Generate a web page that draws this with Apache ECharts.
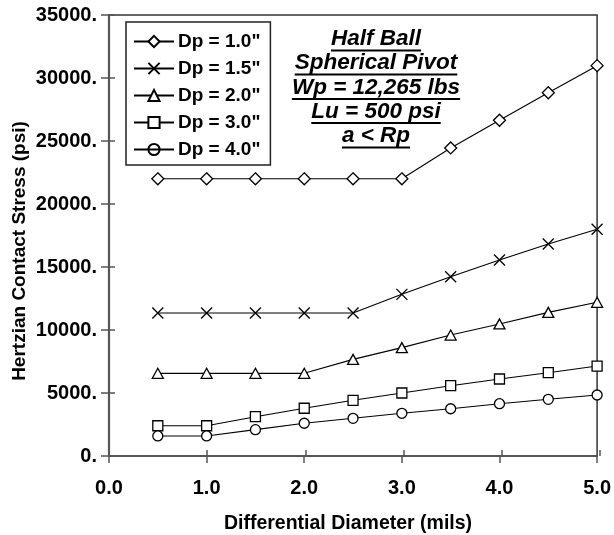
<!DOCTYPE html>
<html>
<head>
<meta charset="utf-8">
<script src="https://cdn.jsdelivr.net/npm/echarts@6/dist/echarts.min.js"></script>
<style>
  html, body { margin: 0; padding: 0; background: #fff; }
  #chart { width: 614px; height: 535px; }
</style>
</head>
<body>
<div id="chart"></div>
<script>
// Differential diameter (mils) along the x axis
const diffDiameter = [0.5, 1.0, 1.5, 2.0, 2.5, 3.0, 3.5, 4.0, 4.5, 5.0];

// Hertzian contact stress (psi) for each pivot diameter
const dp10 = [22000, 22000, 22000, 22000, 22000, 22000, 24450, 26650, 28830, 30980];
const dp15 = [11350, 11350, 11350, 11350, 11350, 12830, 14230, 15560, 16830, 17990];
const dp20 = [6560, 6560, 6560, 6560, 7670, 8600, 9600, 10480, 11400, 12200];
const dp30 = [2400, 2400, 3120, 3790, 4420, 5000, 5580, 6110, 6610, 7140];
const dp40 = [1590, 1590, 2090, 2600, 2990, 3390, 3750, 4150, 4500, 4840];

const seriesNames = ['Dp = 1.0"', 'Dp = 1.5"', 'Dp = 2.0"', 'Dp = 3.0"', 'Dp = 4.0"'];

const yTicks = [0, 5000, 10000, 15000, 20000, 25000, 30000, 35000];
const xTicks = [0, 1, 2, 3, 4, 5];

const noteLines = ['Half Ball', 'Spherical Pivot', 'Wp = 12,265 lbs', 'Lu = 500 psi', 'a < Rp'];

const FONT = 'Arial, "Liberation Sans", sans-serif';
const INK = '#000';
const AXIS_GRAY = '#555';

const crossPath = 'path://M0,0L10,10M10,0L0,10';
const markers = [
  { symbol: 'diamond', size: [12, 12] },
  { symbol: crossPath, size: 11 },
  { symbol: 'triangle', size: [11, 10] },
  { symbol: 'rect', size: 10 },
  { symbol: 'circle', size: 10 }
];
const values = [dp10, dp15, dp20, dp30, dp40];

const series = values.map((vals, i) => ({
  name: seriesNames[i],
  type: 'line',
  xAxisIndex: 0,
  yAxisIndex: 0,
  data: diffDiameter.map((x, k) => [x, vals[k]]),
  symbol: markers[i].symbol,
  symbolSize: markers[i].size,
  showAllSymbol: true,
  lineStyle: { color: INK, width: 1.1 },
  itemStyle: { color: i === 1 ? 'none' : '#fff', borderColor: INK, borderWidth: 1.3 },
  emphasis: { disabled: true },
  animation: false,
  z: 3
}));

// measure text to place the underlines under the note lines
const NOTE_FONT = 'italic bold 22.5px ' + FONT;
const measureCtx = document.createElement('canvas').getContext('2d');
measureCtx.font = NOTE_FONT;

const noteX = 376;
const noteY = [39, 63, 87.5, 111.5, 136];
const noteGraphics = [];
noteLines.forEach((t, i) => {
  const w = measureCtx.measureText(t).width;
  noteGraphics.push({
    type: 'text',
    x: noteX, y: noteY[i],
    style: {
      text: t, fill: INK, font: NOTE_FONT,
      textAlign: 'center', textVerticalAlign: 'middle'
    },
    z: 10
  });
  noteGraphics.push({
    type: 'line',
    shape: { x1: noteX - w / 2, y1: noteY[i] + 11.5, x2: noteX + w / 2, y2: noteY[i] + 11.5 },
    style: { stroke: INK, lineWidth: 2 },
    z: 10
  });
});

const gridRect = { left: 109, top: 15, right: 14, bottom: 79 };

const chart = echarts.init(document.getElementById('chart'), null, { renderer: 'canvas' });
chart.setOption({
  animation: false,
  backgroundColor: '#fff',
  grid: [
    Object.assign({ show: true, borderColor: '#333', borderWidth: 1.5, backgroundColor: 'transparent' }, gridRect),
    Object.assign({ show: false }, gridRect)
  ],
  xAxis: [
    {
      type: 'value', gridIndex: 0, min: xTicks[0], max: xTicks[xTicks.length - 1], interval: 1,
      axisLine: { show: true, lineStyle: { color: AXIS_GRAY, width: 2.2 } },
      axisTick: { show: true, inside: false, length: 7, lineStyle: { color: AXIS_GRAY, width: 1.5 } },
      axisLabel: {
        margin: 22, color: INK, fontFamily: FONT, fontWeight: 'bold', fontSize: 20,
        formatter: v => v.toFixed(1)
      },
      splitLine: { show: false }
    },
    {
      type: 'value', gridIndex: 1, min: xTicks[0], max: xTicks[xTicks.length - 1], interval: 1,
      axisLine: { show: false },
      axisTick: { show: true, inside: true, length: 6, lineStyle: { color: AXIS_GRAY, width: 1.5 } },
      axisLabel: { show: false },
      splitLine: { show: false }
    }
  ],
  yAxis: [
    {
      type: 'value', gridIndex: 0, min: yTicks[0], max: yTicks[yTicks.length - 1], interval: 5000,
      axisLine: { show: true, lineStyle: { color: AXIS_GRAY, width: 2.2 } },
      axisTick: { show: true, inside: false, length: 8, lineStyle: { color: AXIS_GRAY, width: 1.5 } },
      axisLabel: {
        margin: 12, color: INK, fontFamily: FONT, fontWeight: 'bold', fontSize: 20,
        formatter: v => v + '.'
      },
      splitLine: { show: false }
    },
    {
      type: 'value', gridIndex: 1, min: yTicks[0], max: yTicks[yTicks.length - 1], interval: 5000,
      axisLine: { show: false },
      axisTick: { show: true, inside: true, length: 6, lineStyle: { color: AXIS_GRAY, width: 1.5 } },
      axisLabel: { show: false },
      splitLine: { show: false }
    }
  ],
  legend: {
    orient: 'vertical',
    left: 126, top: 22,
    padding: [10, 10, 6, 7],
    backgroundColor: '#fff',
    borderColor: '#222', borderWidth: 1.5,
    itemWidth: 40, itemHeight: 14, itemGap: 8,
    selectedMode: false,
    textStyle: { color: INK, fontFamily: FONT, fontWeight: 'bold', fontSize: 19, lineHeight: 14, padding: [0, 0, 0, -1] },
    data: seriesNames.map((n, i) => i === 4 ? { name: n, itemStyle: { color: 'none' } } : { name: n })
  },
  series: series,
  graphic: [
    {
      type: 'text', x: 20, y: 251, rotation: Math.PI / 2,
      style: {
        text: 'Hertzian Contact Stress (psi)', fill: INK,
        font: 'bold 19px ' + FONT, textAlign: 'center', textVerticalAlign: 'middle'
      }
    },
    {
      type: 'text', x: 348, y: 524,
      style: {
        text: 'Differential Diameter (mils)', fill: INK,
        font: 'bold 19.5px ' + FONT, textAlign: 'center', textVerticalAlign: 'middle'
      }
    }
  ].concat(noteGraphics)
});
</script>
</body>
</html>
